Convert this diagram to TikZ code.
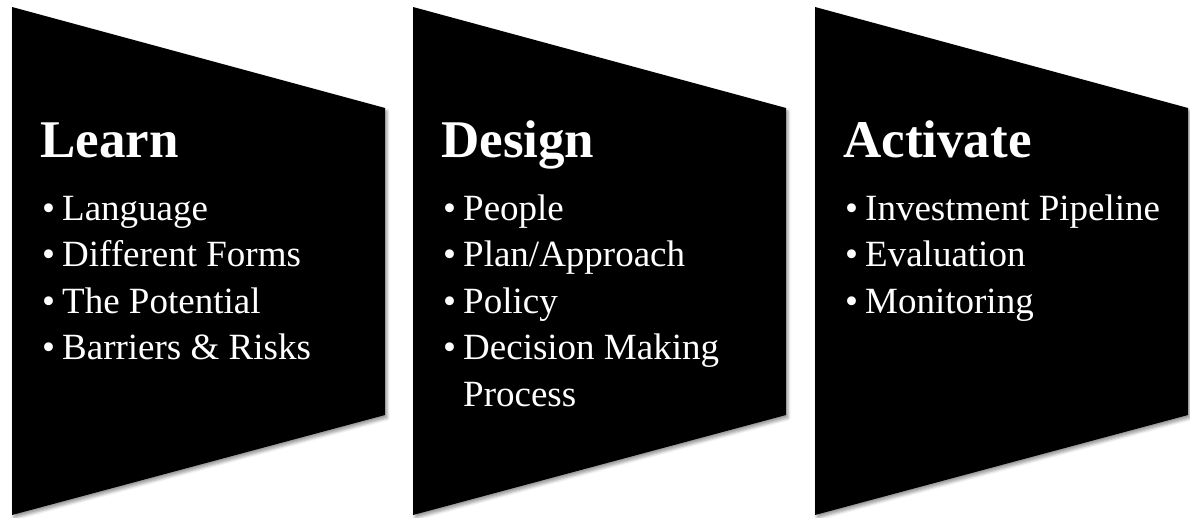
\documentclass[tikz,border=0pt]{standalone}
\usepackage{fontspec}
\setmainfont{Liberation Serif}
\usetikzlibrary{shadows.blur}

\tikzset{
	panel/.style={fill=black,blur shadow={shadow xshift=2pt,shadow yshift=-3pt,shadow blur radius=3pt,shadow opacity=40}},
	headline/.style={anchor=base west,text=white,inner sep=0pt,font=\fontsize{53}{60}\selectfont\bfseries},
	itemlist/.style={anchor=base west,text=white,inner sep=0pt,font=\fontsize{37}{46.5}\selectfont}
}
\newcommand{\pitem}{\makebox[20pt][l]{\textbullet}}

\begin{document}
\begin{tikzpicture}[x=1pt,y=-1pt]
		\useasboundingbox (0,0) rectangle (1190,517);
		% three panels
		\path[panel] (12,7) -- (385,108) -- (385,415) -- (12,515) -- cycle;
		\path[panel] (413,7) -- (786,108) -- (786,415) -- (413,515) -- cycle;
		\path[panel] (815,7) -- (1188,108) -- (1188,415) -- (815,515) -- cycle;
		% titles
		\node[headline] (learn) at (40,157) {Learn};
		\node[headline] (design) at (441,157) {Design};
		\node[headline] (activate) at (843,157) {Activate};
		% lists
		\node[itemlist] (learnlist) at (42,220) {\begin{tabular}[t]{@{}l@{}l@{}}
			\pitem & Language\\
			\pitem & Different Forms\\
			\pitem & The Potential\\
			\pitem & Barriers \& Risks
		\end{tabular}};
		\node[itemlist] (designlist) at (443,220) {\begin{tabular}[t]{@{}l@{}l@{}}
			\pitem & People\\
			\pitem & Plan/Approach\\
			\pitem & Policy\\
			\pitem & Decision Making\\
			& Process
		\end{tabular}};
		\node[itemlist] (activatelist) at (845,220) {\begin{tabular}[t]{@{}l@{}l@{}}
			\pitem & Investment Pipeline\\
			\pitem & Evaluation\\
			\pitem & Monitoring
		\end{tabular}};
\end{tikzpicture}
\end{document}
